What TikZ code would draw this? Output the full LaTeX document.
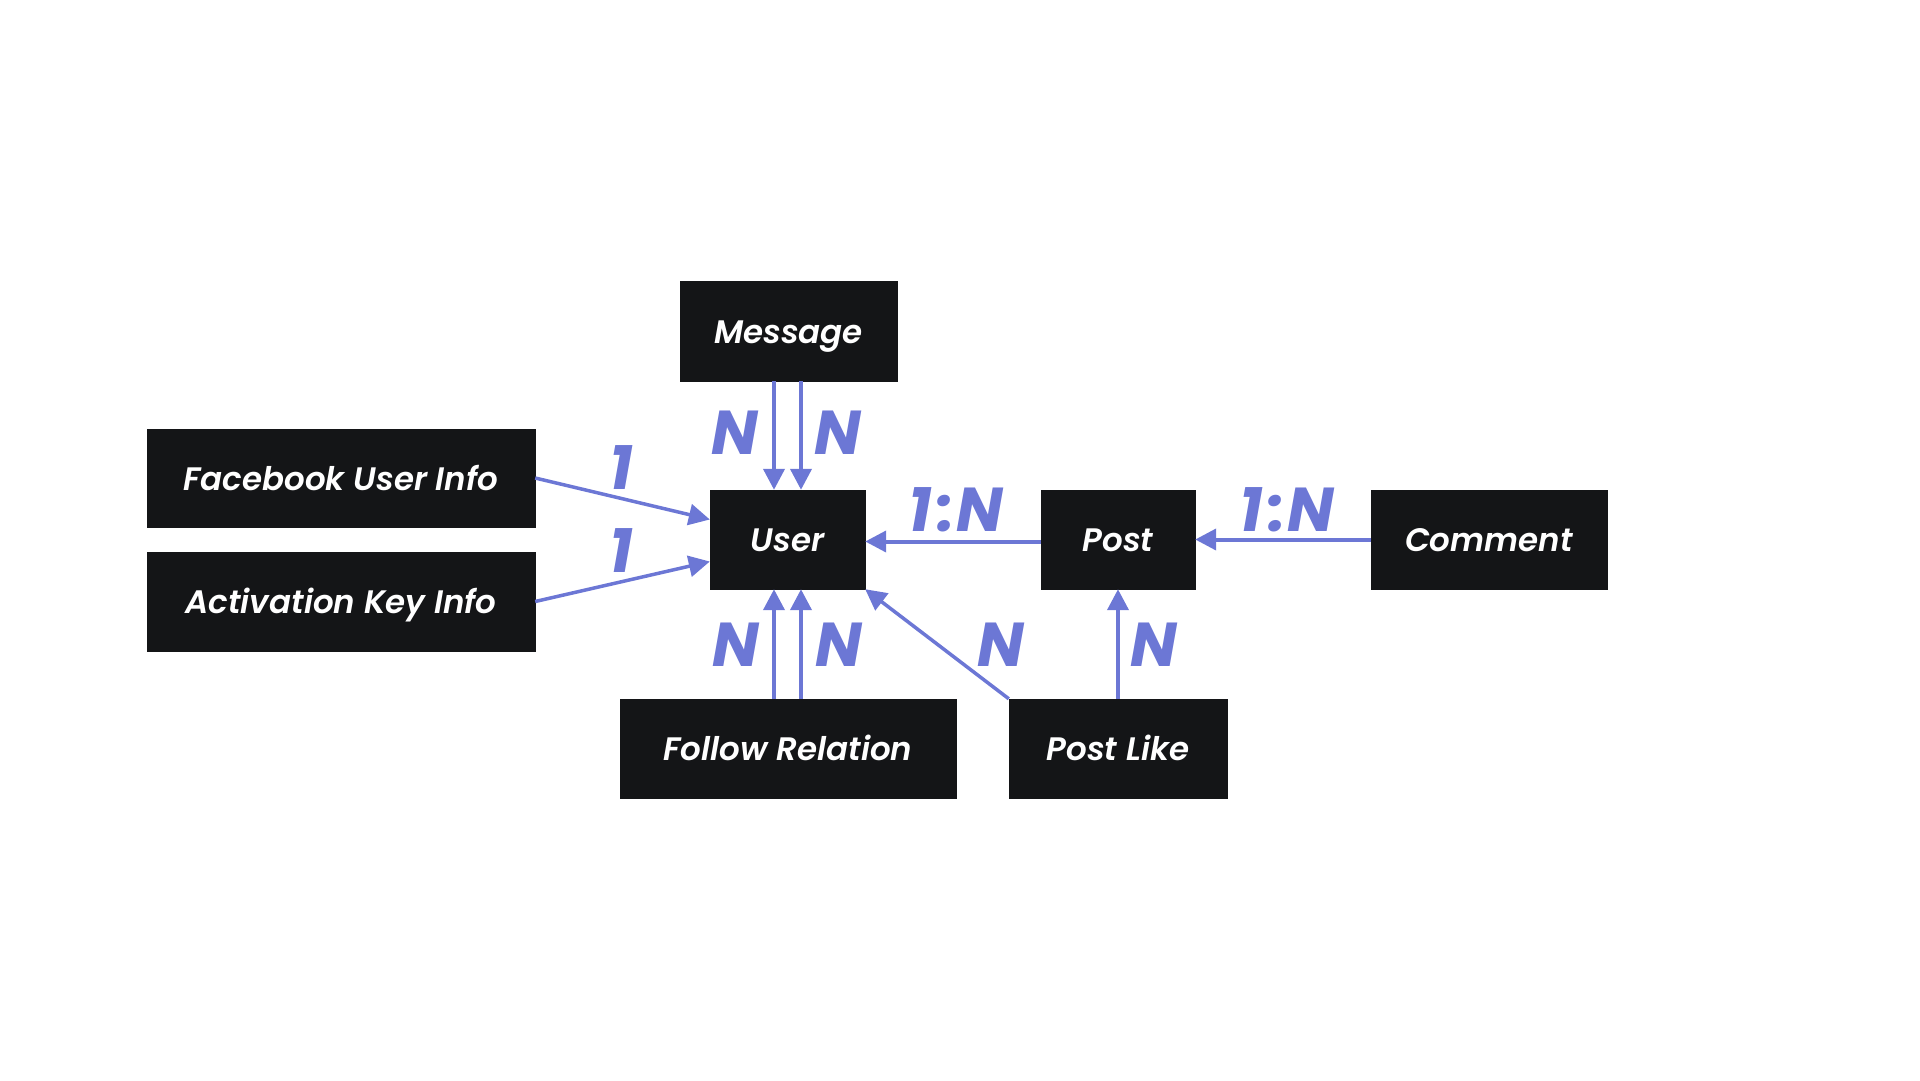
\documentclass[tikz,border=0pt]{standalone}
\usepackage{fontspec}
\setmainfont{Poppins}[BoldFont={* SemiBold},BoldItalicFont={* SemiBold Italic}]
\newfontfamily\cardfont{Poppins}[BoldItalicFont={* Bold Italic}]
\usetikzlibrary{arrows.meta}
\definecolor{boxfill}{HTML}{141517}
\definecolor{arrcol}{HTML}{6C77D5}
\begin{document}
\begin{tikzpicture}[x=1pt,y=-1pt,
  ent/.style={fill=boxfill,draw=boxfill,inner sep=0pt,text=white,text height=30pt,text depth=6pt,
    font=\fontsize{32.5}{36}\selectfont\bfseries\itshape},
  rel/.style={draw=arrcol,line width=4pt,-{Triangle[length=21pt,width=21pt]}},
  card/.style={text=arrcol,inner sep=0pt,font=\cardfont\fontsize{62}{66}\selectfont\bfseries\itshape}]
\useasboundingbox (0,0) rectangle (1920,1080);
\node[ent,minimum width=217pt,minimum height=100pt] (msg) at (788.5,331) {Message};
\node[ent,minimum width=388pt,minimum height=98pt] (fb) at (341,478) {Facebook User Info};
\node[ent,minimum width=388pt,minimum height=99pt] (act) at (341,601.5) {Activation Key Info};
\node[ent,minimum width=155pt,minimum height=99pt] (user) at (787.5,539.5) {User};
\node[ent,minimum width=154pt,minimum height=99pt] (post) at (1118,539.5) {Post};
\node[ent,minimum width=236pt,minimum height=99pt] (comment) at (1489,539.5) {Comment};
\node[ent,minimum width=336pt,minimum height=99pt] (follow) at (788,748.5) {Follow Relation};
\node[ent,minimum width=218pt,minimum height=99pt] (like) at (1118,748.5) {Post Like};
% connectors
\draw[rel] ([xshift=-14.5pt]msg.south) -- ([xshift=-13.5pt]user.north);
\draw[rel] ([xshift=12.5pt]msg.south) -- ([xshift=13.5pt]user.north);
\draw[rel] ([xshift=-14pt]follow.north) -- ([xshift=-13.5pt]user.south);
\draw[rel] ([xshift=13pt]follow.north) -- ([xshift=13.5pt]user.south);
\draw[rel,line width=3.5pt] (fb.east) -- ([yshift=20pt]user.west);
\draw[rel,line width=3.5pt] (act.east) -- ([yshift=-22pt]user.west);
\draw[rel] ([yshift=-2pt]post.west) -- ([yshift=-2pt]user.east);
\draw[rel] (comment.west) -- (post.east);
\draw[rel,line width=3.5pt] (like.north west) -- (user.south east);
\draw[rel] (like.north) -- (post.south);
% cardinalities
\node[card] (c1) at (621,468) {1};
\node[card] (c2) at (621,551) {1};
\node[card] (c3) at (735,433) {N};
\node[card] (c4) at (838,433) {N};
\node[card] (c5) at (956,510) {1\hspace{5pt}:\hspace{2pt}N};
\node[card] (c6) at (1287,510) {1\hspace{5pt}:\hspace{2pt}N};
\node[card] (c7) at (736,645) {N};
\node[card] (c8) at (839,645) {N};
\node[card] (c9) at (1001,645) {N};
\node[card] (c10) at (1154,645) {N};
\end{tikzpicture}
\end{document}
